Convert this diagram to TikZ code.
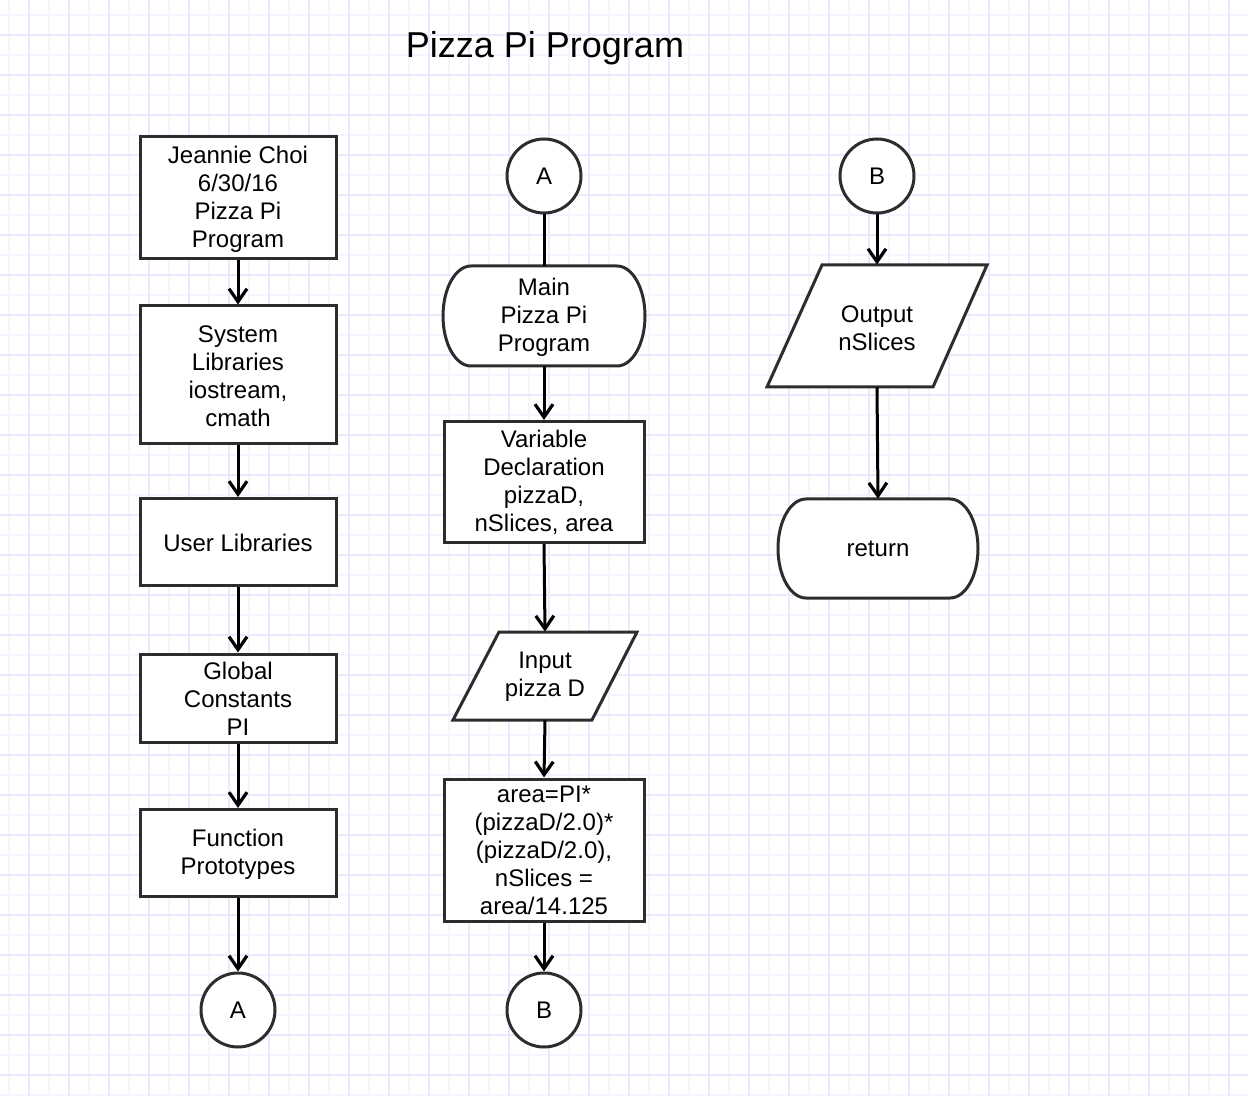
\documentclass[tikz,border=0pt]{standalone}
\usepackage{fontspec}
\setmainfont{Liberation Sans}
\usetikzlibrary{arrows.meta}
\definecolor{gridA}{RGB}{245,245,255}
\definecolor{gridB}{RGB}{234,234,255}
\definecolor{edge}{RGB}{45,45,45}
\newcommand{\txtfont}{\fontsize{12}{14}\selectfont}
\begin{document}
\begin{tikzpicture}[x=0.5pt,y=-0.5pt,
  shapeline/.style={draw=edge,line width=1.5pt,fill=white},
  box/.style={shapeline,rectangle,align=center,font=\txtfont,inner sep=0pt,text depth=0pt},
  circ/.style={shapeline,circle,minimum size=37pt,inner sep=0pt,font=\txtfont},
  txt/.style={rectangle,draw=none,align=center,font=\txtfont,inner sep=0pt},
  lbl/.style={align=center,font=\txtfont,inner sep=0pt,yshift=-0.4pt},
  arr/.style={draw=black,line width=1.5pt,-{Straight Barb[length=6.5pt,width=9pt,line width=1.6pt]}},
  plain/.style={draw=black,line width=1.5pt}]
\useasboundingbox (0,0) rectangle (1248,1096);
\fill[white] (0,0) rectangle (1248,1096);
% grid
\foreach \v in {9,49,...,1248} \draw[gridA,line width=1pt] (\v,0) -- (\v,1096);
\foreach \v in {15,55,...,1096} \draw[gridA,line width=1pt] (0,\v) -- (1248,\v);
\foreach \v in {29,69,...,1248} \draw[gridB,line width=1pt] (\v,0) -- (\v,1096);
\foreach \v in {35,75,...,1096} \draw[gridB,line width=1pt] (0,\v) -- (1248,\v);

% title
\node[font=\fontsize{18}{22}\selectfont,inner sep=0pt] (title) at (545,48) {Pizza Pi Program};

% left column
\node[box,minimum width=98pt,minimum height=61pt] (b1) at (238,198) {};
\node[lbl] (t1) at (b1) {Jeannie Choi\\6/30/16\\Pizza Pi\\Program};
\node[box,minimum width=98pt,minimum height=69pt] (b2) at (238,375) {};
\node[lbl] (t2) at (b2) {System\\Libraries\\iostream,\\cmath};
\node[box,minimum width=98pt,minimum height=43.5pt] (b3) at (238,542) {};
\node[lbl] (t3) at (b3) {User Libraries};
\node[box,minimum width=98pt,minimum height=44pt] (b4) at (238,698) {};
\node[lbl] (t4) at (b4) {Global\\Constants\\PI};
\node[box,minimum width=98pt,minimum height=43.5pt] (b5) at (238,853) {};
\node[lbl] (t5) at (b5) {Function\\Prototypes};
\node[circ] (cA1) at (238,1010) {A};

% middle column
\node[circ] (cA2) at (544,176) {A};
\draw[shapeline] (471,266) -- (617,266) arc[start angle=-90,end angle=90,x radius=28,y radius=50]
  -- (471,366) arc[start angle=90,end angle=270,x radius=28,y radius=50] -- cycle;
\node[txt,minimum width=101pt,minimum height=50pt] (main) at (544,316) {};
\node[lbl] (t6) at (main) {Main\\Pizza Pi\\Program};
\node[box,minimum width=100pt,minimum height=60.5pt] (var) at (544,482) {};
\node[lbl] (t7) at (var) {Variable\\Declaration\\pizzaD,\\nSlices, area};
\draw[shapeline] (499,632) -- (637,632) -- (592,720) -- (453,720) -- cycle;
\node[txt,minimum width=92pt,minimum height=44pt] (inp) at (545,676) {};
\node[lbl] (t8) at (inp) {Input\\pizza D};
\node[box,minimum width=100pt,minimum height=71pt] (area) at (544,850) {};
\node[lbl] (t9) at (area) {area=PI*\\(pizzaD/2.0)*\\(pizzaD/2.0),\\nSlices =\\area/14.125};
\node[circ] (cB1) at (544,1010) {B};

% right column
\node[circ] (cB2) at (877,176) {B};
\draw[shapeline] (822,265) -- (987,265) -- (933,387) -- (767,387) -- cycle;
\node[txt,minimum width=110pt,minimum height=61pt] (out) at (877,326) {};
\node[lbl] (t10) at (877,327) {Output\\nSlices};
\draw[shapeline] (806,499) -- (950,499) arc[start angle=-90,end angle=90,x radius=28,y radius=49.5]
  -- (806,598) arc[start angle=90,end angle=270,x radius=28,y radius=49.5] -- cycle;
\node[txt,minimum width=100pt,minimum height=49.5pt] (ret) at (878,548.5) {};
\node[lbl] (t11) at (ret) {return};

% connectors
\draw[arr] (b1.south) -- (b2.north);
\draw[arr] (b2.south) -- (b3.north);
\draw[arr] (b3.south) -- (b4.north);
\draw[arr] (b4.south) -- (b5.north);
\draw[arr] (b5.south) -- (cA1.north);
\draw[plain] (cA2.south) -- (main.north);
\draw[arr] (main.south) -- (var.north);
\draw[arr] (var.south) -- (inp.north);
\draw[arr] (inp.south) -- (area.north);
\draw[arr] (area.south) -- (cB1.north);
\draw[arr] (cB2.south) -- (out.north);
\draw[arr] (out.south) -- (ret.north);
\end{tikzpicture}
\end{document}
